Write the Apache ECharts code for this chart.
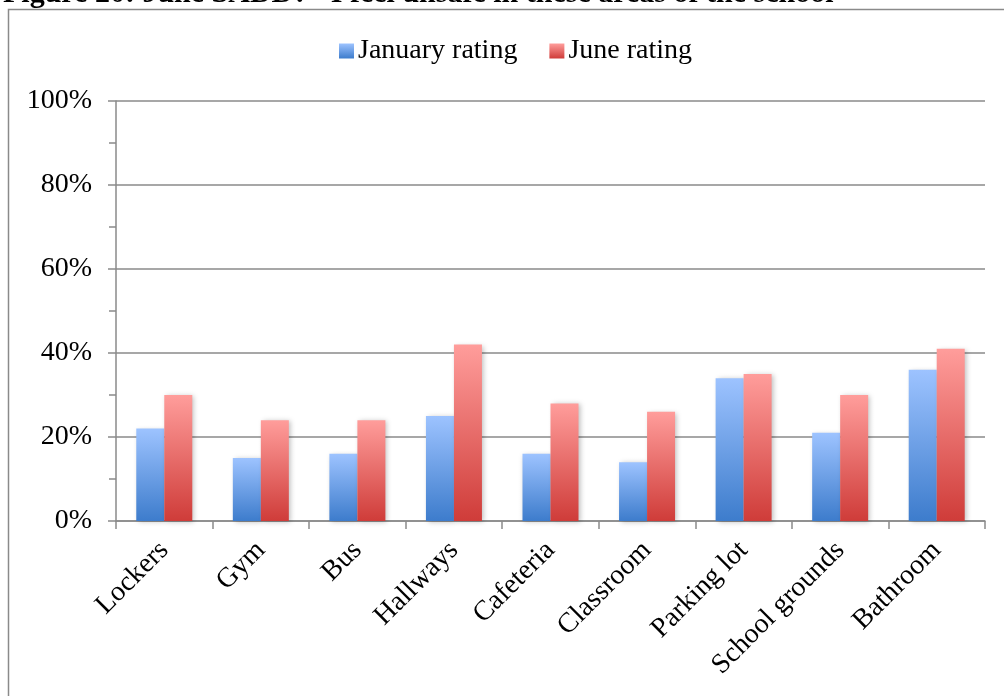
<!DOCTYPE html>
<html><head><meta charset="utf-8">
<script src="https://cdn.jsdelivr.net/npm/echarts@6/dist/echarts.min.js"></script>
<style>html,body{margin:0;padding:0;background:#fff}#c{width:1004px;height:696px}</style>
</head><body><div id="c"></div>
<script>
const categories = ["Lockers","Gym","Bus","Hallways","Cafeteria","Classroom","Parking lot","School grounds","Bathroom"];
const januaryRating = [22, 15, 16, 25, 16, 14, 34, 21, 36];
const juneRating = [30, 24, 24, 42, 28, 26, 35, 30, 41];
const yTicks = [0, 20, 40, 60, 80, 100];

const FONT = '"Liberation Serif", "Times New Roman", serif';
const blueGrad = new echarts.graphic.LinearGradient(0,0,0,1,[{offset:0,color:'#9dc3ff'},{offset:1,color:'#3d7ccc'}]);
const redGrad = new echarts.graphic.LinearGradient(0,0,0,1,[{offset:0,color:'#ff9d9b'},{offset:1,color:'#cf3c39'}]);

const chart = echarts.init(document.getElementById('c'), null, {renderer:'canvas'});
chart.setOption({
  animation:false,
  backgroundColor:'#fff',
  graphic:[
    {type:'rect', shape:{x:8.5,y:9.5,width:1100,height:800}, style:{fill:'none',stroke:'#8a8a8a',lineWidth:1.5}, silent:true, z:0},
    {type:'text', left:3, top:-21, style:{text:'Figure 20: June SADD? \u201cI feel unsafe in these areas of the school\u201d', font:'bold 30px "Liberation Serif", serif', fill:'#000'}, z:10}
  ],
  legend:{
    left:334, top:32, itemGap:32, itemWidth:15, itemHeight:15,
    icon:'rect',
    textStyle:{fontFamily:FONT, fontSize:28, color:'#000', padding:[0,0,0,-1]},
    data:['January rating','June rating']
  },
  grid:{left:116, right:19, top:101, bottom:175, containLabel:false},
  xAxis:{
    type:'category', data:categories,
    axisLine:{lineStyle:{color:'#8a8a8a', width:1.5}},
    axisTick:{show:true, length:8, lineStyle:{color:'#8a8a8a', width:1.5}},
    axisLabel:{rotate:45, fontFamily:FONT, fontSize:28, color:'#000', margin:25, interval:0}
  },
  yAxis:{
    type:'value', min:0, max:100, interval:20,
    axisLine:{show:true, lineStyle:{color:'#8a8a8a', width:1.5}},
    axisTick:{show:true, length:8, lineStyle:{color:'#8a8a8a', width:1.5}},
    minorTick:{show:true, splitNumber:2, length:7, lineStyle:{color:'#8a8a8a', width:1.5}},
    splitLine:{show:true, lineStyle:{color:'#8a8a8a', width:1.5}},
    axisLabel:{fontFamily:FONT, fontSize:28, color:'#000', margin:24, formatter:v=> yTicks.includes(v) ? v+'%' : ''}
  },
  series:[
    {name:'January rating', type:'bar', data:januaryRating, barGap:'0%', barCategoryGap:'42%',
     itemStyle:{color:blueGrad, shadowBlur:5, shadowOffsetX:2, shadowOffsetY:1, shadowColor:'rgba(0,0,0,0.25)'}},
    {name:'June rating', type:'bar', data:juneRating,
     itemStyle:{color:redGrad, shadowBlur:5, shadowOffsetX:2, shadowOffsetY:1, shadowColor:'rgba(0,0,0,0.25)'}}
  ]
});
</script></body></html>
